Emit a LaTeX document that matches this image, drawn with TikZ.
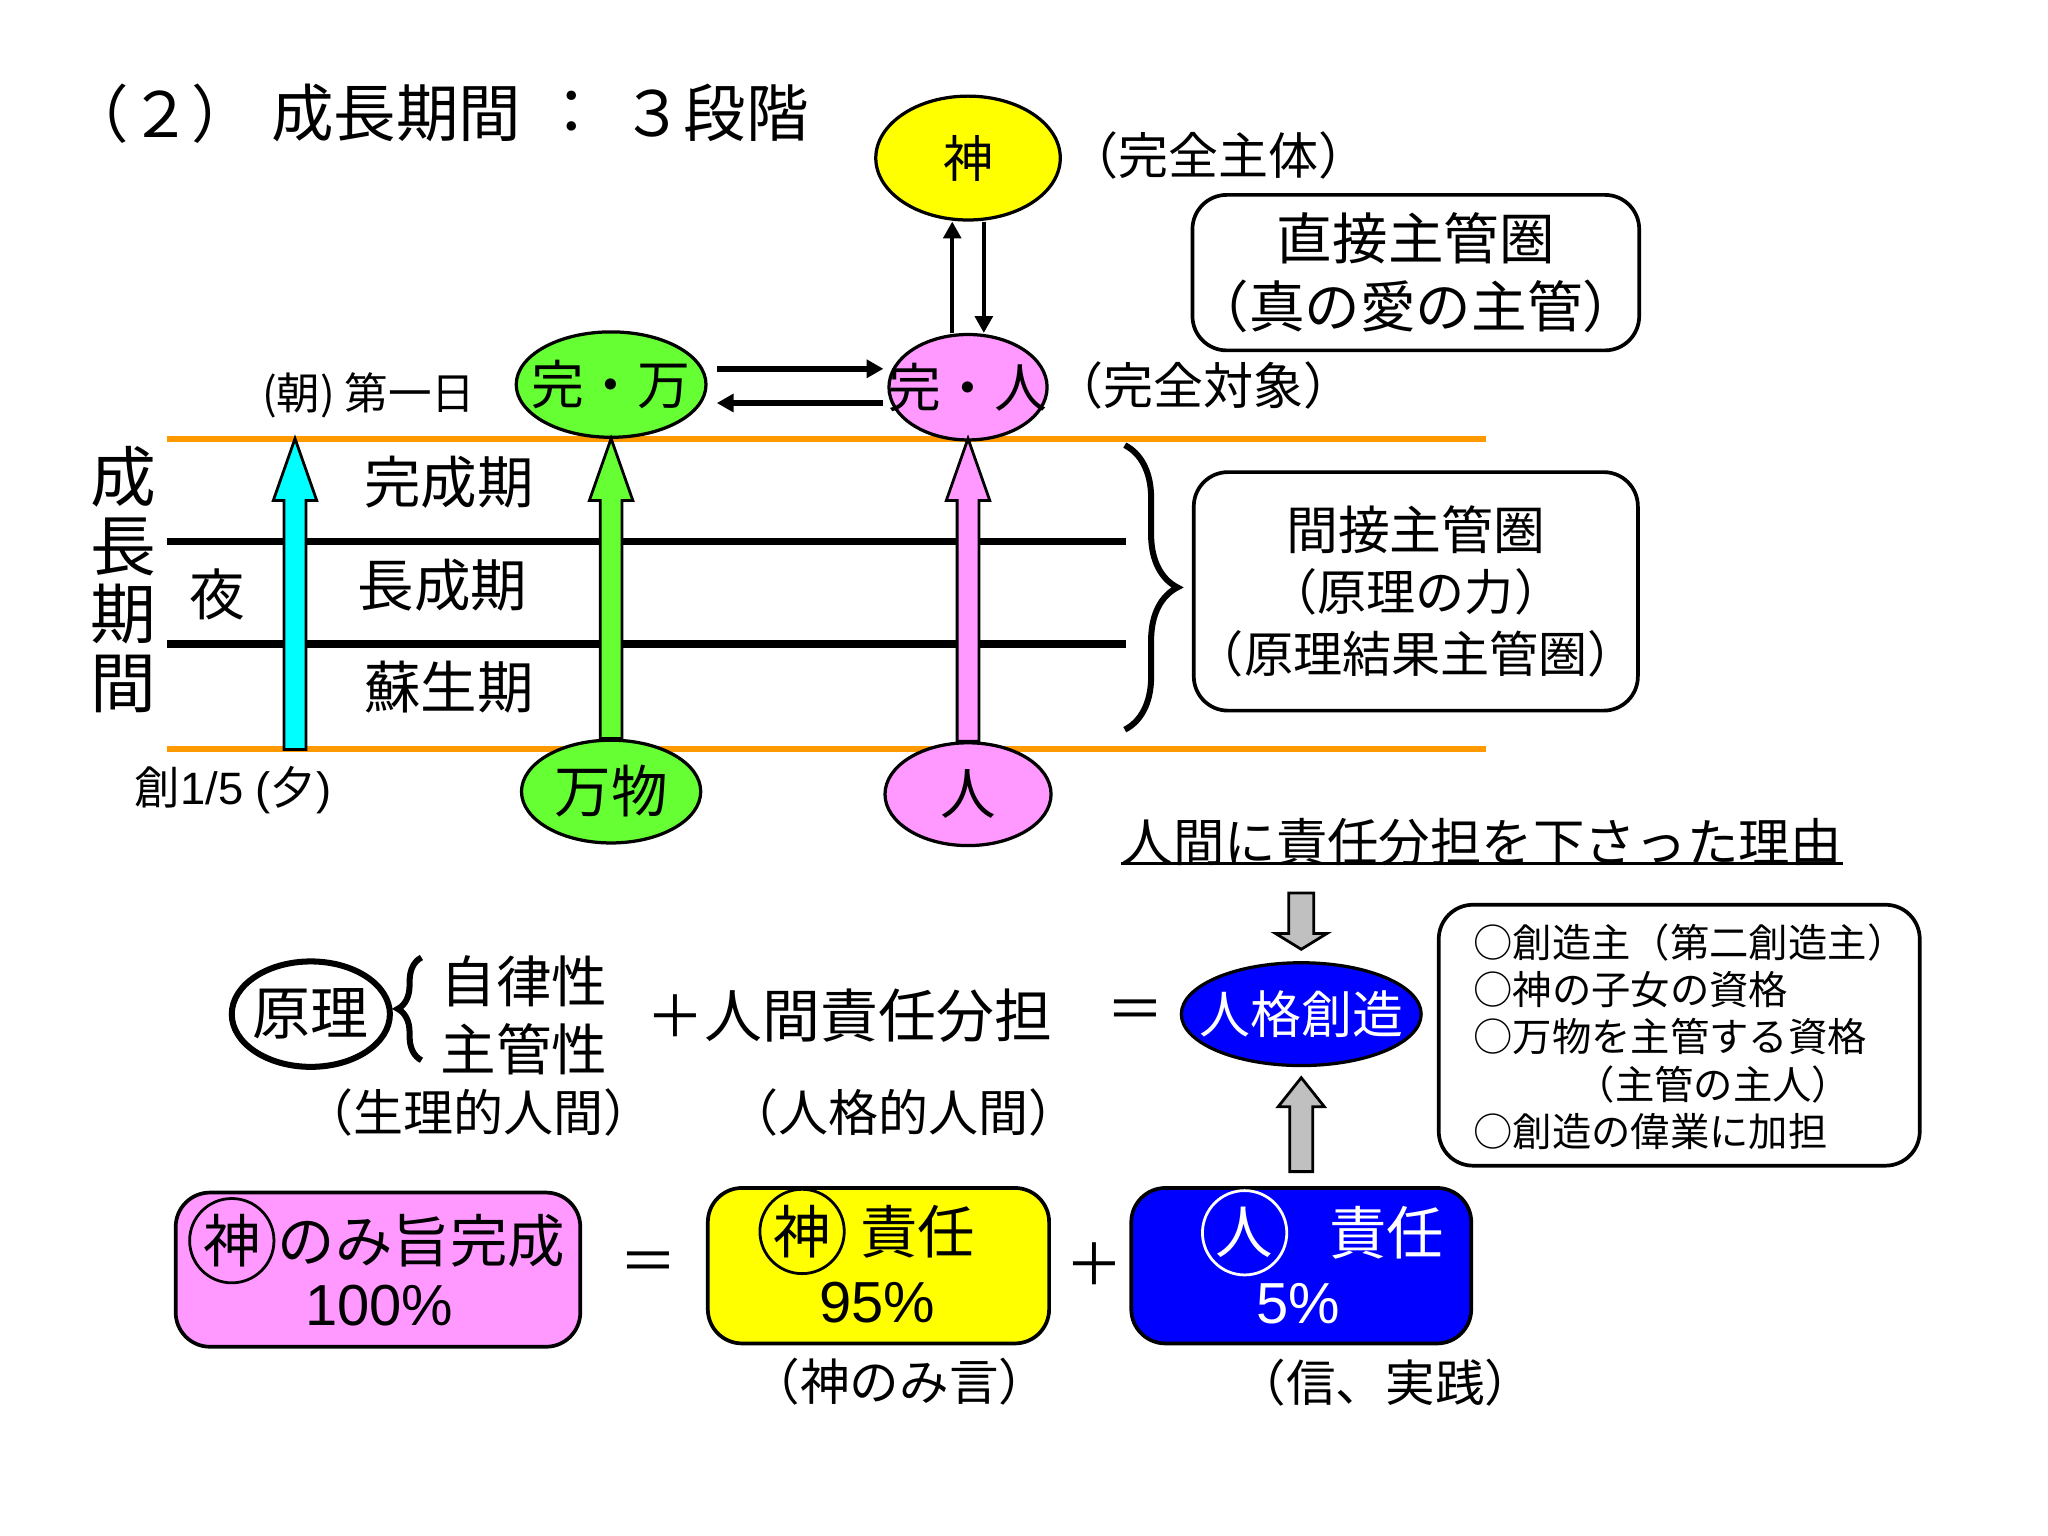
\documentclass[tikz,border=0pt]{standalone}
\usepackage{fontspec}
\setmainfont{Noto Sans CJK JP}
\newfontfamily\arialfont{Liberation Sans}
\usepackage{tikz}
\usetikzlibrary{calc, positioning, shapes.geometric, decorations.pathreplacing}
\usetikzlibrary{arrows.meta}
\tikzset{>={Triangle[length=3.6pt, width=3.8pt]}}
\definecolor{mygreen}{HTML}{66FF33}
\definecolor{mypink}{HTML}{FF99FF}
\definecolor{myorange}{HTML}{FF9900}
\definecolor{mygray}{HTML}{C0C0C0}
\definecolor{mycyan}{HTML}{00FFFF}
\definecolor{myyellow}{HTML}{FFFF00}
\definecolor{myblue}{HTML}{0000FF}
\newcommand{\fs}[2]{\fontsize{#1pt}{#2pt}\selectfont}
\newcommand{\zw}[1]{\makebox[0pt]{#1}}
% tail, tip, fill, half shaft, half head, head length
\newcommand{\fatarrow}[6]{%
  \draw[fill=#3, line width=0.6pt] ($(#1)+(-#4,0)$) -- ($(#2)+(-#4,#6)$) -- ($(#2)+(-#5,#6)$) -- (#2)
    -- ($(#2)+(#5,#6)$) -- ($(#2)+(#4,#6)$) -- ($(#1)+(#4,0)$) -- cycle;}
\tikzset{
  txt/.style={inner sep=0pt},
  oval/.style={ellipse, draw, line width=0.7pt, inner sep=0pt},
  roundbox/.style={draw, rounded corners=0.26cm, line width=0.8pt, inner sep=0pt},
  circled/.style={circle, draw, line width=0.6pt, inner sep=0pt, minimum size=0.64cm},
}

\begin{document}
\begin{tikzpicture}[x=0.01cm, y=-0.01cm]
\useasboundingbox (0,0) rectangle (1555,1166);

% title
\node[txt, font=\fs{13.5}{16}] (t-num) at (122,86) {（２）};
\node[txt, font=\fs{13.5}{16}] (t-name) at (301,86) {成長期間};
\node[txt, font=\fs{13.5}{16}] (t-colon) at (434,86) {：};
\node[txt, font=\fs{13.5}{16}] (t-stage) at (543,86) {３段階};

% the three stages
\draw[line width=1.6pt] (127,411) -- (855,411);
\draw[line width=1.6pt] (127,489) -- (855,489);
\draw[myorange, line width=1.3pt] (127,333) coordinate (topline) -- (1128,333);
\draw[myorange, line width=1.3pt] (127,569) -- (1128,569);

\node[txt, align=center, font=\fs{14.2}{14.8}] (seicho) at (94,440) {成\\長\\期\\間};
\node[txt, font=\fs{12}{14}] (yoru) at (165,451) {夜};
\node[txt, font=\fs{12.2}{14}] (kansei) at (341,366) {完成期};
\node[txt, font=\fs{12.2}{14}] (chosei) at (336,444) {長成期};
\node[txt, font=\fs{12.2}{14}] (sosei) at (341,522) {蘇生期};
\node[txt, font=\fs{9.4}{11}] (asa) at (280,300) {(朝) 第一日};
\node[txt, font=\fs{9.8}{11}] (yube) at (177,600) {創{\arialfont 1/5 (}夕{\arialfont )}};

\node[oval, fill=myyellow, minimum width=1.40cm, minimum height=0.94cm, font=\fs{10.8}{12}] (kami) at (735,120) {\zw{神}};
\node[oval, fill=mypink, minimum width=1.20cm, minimum height=0.80cm, font=\fs{11.4}{13}] (kanjin) at (735,294) {\zw{完・人}};
\node[oval, fill=mygreen, minimum width=1.44cm, minimum height=0.80cm, font=\fs{11.4}{13}] (kanman) at (464,292) {\zw{完・万}};
\node[oval, fill=mygreen, minimum width=1.36cm, minimum height=0.78cm, font=\fs{12.2}{14}] (banbutsu) at (464,601) {\zw{万物}};
\node[oval, fill=mypink, minimum width=1.26cm, minimum height=0.78cm, font=\fs{12}{14}] (hito) at (735,603) {\zw{人}};

\node[txt, font=\fs{10.8}{12}] (shutai) at (925,118) {（完全主体）};
\node[txt, font=\fs{10.8}{12}] (taisho) at (914,293) {（完全対象）};

\draw[->, line width=0.8pt] ([shift={(-12,0)}]kanjin.north) -- ([shift={(-12,0)}]kami.south);
\draw[->, line width=0.8pt] ([shift={(12,0)}]kami.south) -- ([shift={(12,0)}]kanjin.north);
\draw[->, line width=1.2pt] ([shift={(7,-12)}]kanman.east) -- ([shift={(-3,-14)}]kanjin.west);
\draw[->, line width=1.2pt] ([shift={(-3,12)}]kanjin.west) -- ([shift={(7,14)}]kanman.east);

% growth arrows
\coordinate (yoru-tail) at (224,569);
\path (yoru-tail |- topline) coordinate (yoru-tip);
\path (banbutsu.north |- topline) coordinate (man-tip);
\path (hito.north |- topline) coordinate (hito-tip);
\fatarrow{yoru-tail}{yoru-tip}{mycyan}{8.3}{16.5}{47}
\fatarrow{banbutsu.north}{man-tip}{mygreen}{8.3}{16.5}{47}
\fatarrow{hito.north}{hito-tip}{mypink}{8.3}{16.5}{47}

\draw[decorate, decoration={brace, amplitude=0.40cm}, line width=1.3pt] (854,338) -- (854,554);

\node[roundbox, minimum width=3.39cm, minimum height=1.18cm, align=center, font=\fs{12}{14.5}] (chokusetsu) at (1075,207) {直接主管圏\\（真の愛の主管）};
\node[roundbox, minimum width=3.37cm, minimum height=1.81cm, align=center, font=\fs{10.6}{13.2}] (kansetsu) at (1075,449) {\fs{11.2}{13.2}間接主管圏\\（原理の力）\\（原理結果主管圏）};

% reason
\node[txt, font=\fs{11.1}{13}] (riyu) at (1125,639) {人間に責任分担を下さった理由};
\draw[line width=0.6pt] ([shift={(0,-2)}]riyu.south west) -- ([shift={(0,-2)}]riyu.south east);

\node[oval, fill=myblue, minimum width=1.82cm, minimum height=0.78cm, text=white, font=\fs{11}{13}] (jinkaku) at (988,770) {\zw{人格創造}};

\node[roundbox, minimum width=3.65cm, minimum height=1.98cm] (shikaku) at (1275,786) {};
\node[txt, anchor=west, align=left, font=\fs{8.5}{10.2}] (shikaku-text) at (1118,787) {○創造主（第二創造主）\\○神の子女の資格\\○万物を主管する資格\\\hspace*{2.6em}（主管の主人）\\○創造の偉業に加担};

% equation
\node[oval, line width=1.3pt, minimum width=1.20cm, minimum height=0.80cm, font=\fs{12.5}{14}] (genri) at (236,770) {\zw{原理}};
\draw[decorate, decoration={brace, amplitude=0.18cm}, line width=1.3pt] (320,805) -- (320,727);
\node[txt, font=\fs{12}{14}] (jiritsu) at (398,745) {自律性};
\node[txt, font=\fs{12}{14}] (shukan) at (398,797) {主管性};
\node[txt, font=\fs{12.5}{14}] (buntan) at (645,771) {＋人間責任分担};
\node[txt, font=\fs{12.5}{14}] (eq1) at (862,771) {＝};
\node[txt, font=\fs{10.8}{12}] (seiri) at (363,845) {（生理的人間）};
\node[txt, font=\fs{10.8}{12}] (jinkakuteki) at (686,845) {（人格的人間）};

% responsibility
\node[roundbox, fill=mypink, minimum width=3.07cm, minimum height=1.17cm] (mimune) at (287,964) {};
\node[circled, font=\fs{12.4}{14}] (kami-mark1) at (176,942) {神};
\node[txt, font=\fs{12.4}{14}] (mimune-text) at (320,942) {のみ旨完成};
\node[txt, font=\arialfont\fs{12.5}{14}] (p100) at (288,991) {100\%};
\node[txt, font=\fs{12.5}{14}] (eq2) at (492,962) {＝};

\node[roundbox, fill=myyellow, minimum width=2.59cm, minimum height=1.18cm] (kami-box) at (667,961) {};
\node[circled, font=\fs{12.4}{14}] (kami-mark2) at (609,935) {神};
\node[txt, font=\fs{12.4}{14}] (sekinin1) at (697,935) {責任};
\node[txt, font=\arialfont\fs{12.5}{14}] (p95) at (666,989) {95\%};
\node[txt, font=\fs{12.5}{14}] (plus2) at (831,960) {＋};

\node[roundbox, fill=myblue, minimum width=2.58cm, minimum height=1.18cm] (hito-box) at (988,961) {};
\node[circled, draw=white, text=white, font=\fs{12.4}{14}] (hito-mark) at (945,936) {人};
\node[txt, text=white, font=\fs{12.4}{14}] (sekinin2) at (1053,936) {責任};
\node[txt, text=white, font=\arialfont\fs{12.5}{14}] (p5) at (986,990) {5\%};

\node[txt, font=\fs{10.7}{12}] (mikotoba) at (683,1049) {（神のみ言）};
\node[txt, font=\fs{10.7}{12}] (jissen) at (1052,1050) {（信、実践）};

% gray arrows
\path (jinkaku.north |- 0,678) coordinate (dn-tail);
\path ([shift={(0,-9)}]jinkaku.north) coordinate (dn-tip);
\path ([shift={(0,-11)}]hito-box.north) coordinate (up-tail);
\path ([shift={(0,8)}]jinkaku.south) coordinate (up-tip);
\fatarrow{dn-tail}{dn-tip}{mygray}{9.5}{19.5}{-12}
\fatarrow{up-tail}{up-tip}{mygray}{8.7}{17.5}{22}
\end{tikzpicture}
\end{document}
